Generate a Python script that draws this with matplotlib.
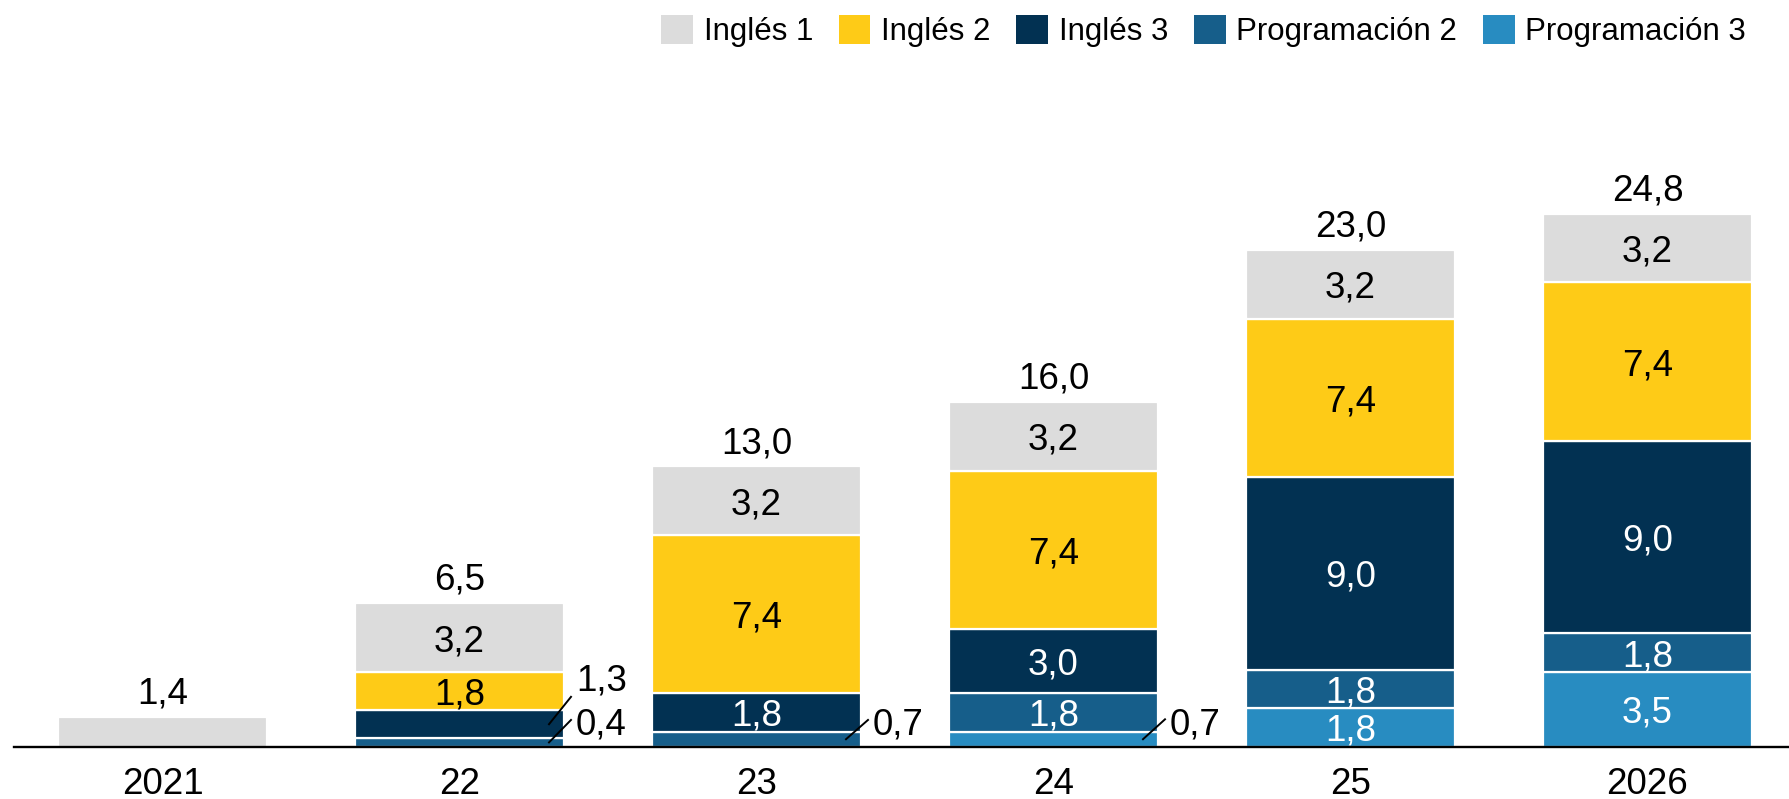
import matplotlib
matplotlib.use("Agg")
import matplotlib.pyplot as plt
from matplotlib.patches import Patch

plt.rcParams['font.family'] = ['Liberation Sans', 'DejaVu Sans']

# ---- data ----
years = ['2021', '22', '23', '24', '25', '2026']
series_names = ['Programación 3', 'Programación 2', 'Inglés 3', 'Inglés 2', 'Inglés 1']
prog3 = [0, 0, 0, 0.7, 1.8, 3.5]
prog2 = [0, 0.4, 0.7, 1.8, 1.8, 1.8]
ingles3 = [0, 1.3, 1.8, 3.0, 9.0, 9.0]
ingles2 = [0, 1.8, 7.4, 7.4, 7.4, 7.4]
ingles1 = [1.4, 3.2, 3.2, 3.2, 3.2, 3.2]
totals = [1.4, 6.5, 13.0, 16.0, 23.0, 24.8]

# ---- style ----
colors = {
    'Programación 3': '#288CC1',
    'Programación 2': '#165E8A',
    'Inglés 3': '#023152',
    'Inglés 2': '#FECB17',
    'Inglés 1': '#DCDCDC',
}
text_colors = {
    'Programación 3': 'white',
    'Programación 2': 'white',
    'Inglés 3': 'white',
    'Inglés 2': 'black',
    'Inglés 1': 'black',
}
legend_order = ['Inglés 1', 'Inglés 2', 'Inglés 3', 'Programación 2', 'Programación 3']
# leader-line labels: (bar index, series, line end y (data), text y (data))
leaders = [(1, 'Programación 2', 1.25, 1.2),
           (1, 'Inglés 3', 2.33, 3.27),
           (2, 'Programación 2', 1.25, 1.2),
           (3, 'Programación 3', 1.28, 1.2)]

values = dict(zip(series_names, [prog3, prog2, ingles3, ingles2, ingles1]))

fmt = lambda v: f"{v:.1f}".replace('.', ',')

W, H = 1790, 799
fig = plt.figure(figsize=(W / 100, H / 100), dpi=100)
base_px = 746.7
ppu = 21.4  # pixels per unit
ax = fig.add_axes([14 / W, (H - base_px) / H, 1 - 14 / W, base_px / H])
ax.set_ylim(0, base_px / ppu)
xpx = 297.0
ax.set_xlim(-0.5, (W - 14) / xpx - 0.5)
width = 209 / xpx
FS = 26.5

x = list(range(len(years)))
bottoms = [0.0] * len(years)
centers = {}
for name in series_names:
    vals = values[name]
    for i, v in enumerate(vals):
        if v > 0:
            ax.bar(i, v, width=width, bottom=bottoms[i], color=colors[name],
                   edgecolor='white', linewidth=1.6, zorder=1)
            c = bottoms[i] + v / 2
            centers[(i, name)] = c
            if v >= 1.5:
                ax.text(i, c, fmt(v), ha='center', va='center_baseline',
                        fontsize=FS, color=text_colors[name], zorder=3)
    bottoms = [b + v for b, v in zip(bottoms, vals)]

for i, t in enumerate(totals):
    ax.annotate(fmt(t), xy=(i, bottoms[i]), xytext=(0, 9.6), textcoords='offset points',
                ha='center', va='baseline', fontsize=FS, color='black')

for i, name, yend, ty in leaders:
    right = i + width / 2
    ax.plot([right - 15 / xpx, right + 7 / xpx], [centers[(i, name)], yend],
            color='black', lw=1.4, zorder=4, clip_on=False)
    ax.text(right + 12 / xpx, ty, fmt(values[name][i]), ha='left', va='center_baseline',
            fontsize=FS, color='black')

ax.set_xticks(x)
ax.set_xticklabels(years, fontsize=FS)
ax.tick_params(axis='x', length=0, pad=14.5)
ax.set_yticks([])
for s in ['top', 'left', 'right']:
    ax.spines[s].set_visible(False)
ax.spines['bottom'].set_linewidth(1.7)
ax.spines['bottom'].set_zorder(5)

handles = [Patch(facecolor=colors[n], edgecolor='none', label=n) for n in legend_order]
fig.legend(handles=handles, loc='center right', bbox_to_anchor=(1746 / W, 1 - 31 / H),
           ncol=5, frameon=False, fontsize=22.5, handlelength=1.02, handleheight=1.08,
           handletextpad=0.34, columnspacing=0.82, borderpad=0, borderaxespad=0)

fig.savefig('out.png', dpi=100)
